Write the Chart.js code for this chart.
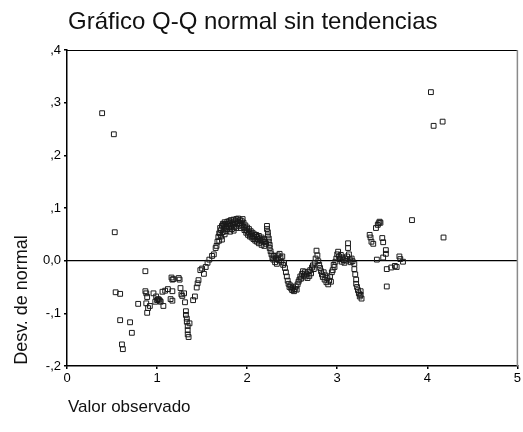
<!DOCTYPE html>
<html>
<head>
<meta charset="utf-8">
<script src="https://cdn.jsdelivr.net/npm/chart.js@4/dist/chart.umd.min.js"></script>
<style>
  html, body { margin: 0; padding: 0; background: #fff; }
  #wrap { width: 523px; height: 432px; }
</style>
</head>
<body>
<div id="wrap"><canvas id="qq" width="523" height="432"></canvas></div>
<script>
// Detrended normal Q-Q plot: [observed value, deviation from normal]
const colaInferior = [
  [0.39, 0.280], [0.52, 0.240], [0.53, 0.054], [0.54, -0.060], [0.59, -0.063],
  [0.59, -0.113], [0.61, -0.159], [0.62, -0.168], [0.70, -0.117], [0.72, -0.137],
  [0.79, -0.082], [0.87, -0.020], [0.87, -0.058], [0.88, -0.062], [0.89, -0.069],
  [0.89, -0.099], [0.88, -0.081], [0.92, -0.086], [0.90, -0.090], [0.96, -0.062],
  [0.99, -0.068], [1.00, -0.075], [0.98, -0.078], [1.01, -0.073], [1.03, -0.076],
  [1.04, -0.078], [1.02, -0.074], [1.07, -0.086], [1.06, -0.059], [1.09, -0.057],
  [1.12, -0.054], [1.17, -0.058], [1.15, -0.073], [1.17, -0.076], [1.16, -0.032],
  [1.17, -0.036], [1.18, -0.035], [1.24, -0.033], [1.25, -0.036], [1.26, -0.052],
  [1.27, -0.064], [1.28, -0.067], [1.30, -0.062], [1.31, -0.079], [1.32, -0.096],
  [1.32, -0.103], [1.33, -0.110], [1.33, -0.116], [1.34, -0.124], [1.34, -0.132],
  [1.34, -0.140], [1.35, -0.145], [1.36, -0.119], [1.40, -0.075], [1.42, -0.068],
  [1.44, -0.051], [1.45, -0.043], [1.46, -0.037], [1.48, -0.018], [1.50, -0.015],
  [1.52, -0.025], [1.54, -0.012], [1.56, -0.004], [1.58, 0.002], [1.61, 0.009],
  [1.63, 0.012], [1.65, 0.024], [1.66, 0.028], [1.67, 0.036], [1.68, 0.045],
  [1.69, 0.052]
];

const cuerpo = [
  [1.69, 0.038], [1.70, 0.052], [1.70, 0.062], [1.71, 0.046], [1.71, 0.058],
  [1.72, 0.066], [1.72, 0.040], [1.73, 0.070], [1.73, 0.054], [1.74, 0.061],
  [1.74, 0.068], [1.75, 0.073], [1.75, 0.050], [1.76, 0.063], [1.76, 0.070],
  [1.77, 0.066], [1.77, 0.056], [1.78, 0.074], [1.78, 0.060], [1.79, 0.069],
  [1.80, 0.075], [1.80, 0.063], [1.81, 0.071], [1.81, 0.055], [1.82, 0.066],
  [1.82, 0.077], [1.83, 0.060], [1.84, 0.073], [1.84, 0.068], [1.85, 0.078],
  [1.85, 0.057], [1.86, 0.064], [1.86, 0.071], [1.87, 0.076], [1.88, 0.062],
  [1.88, 0.079], [1.89, 0.069], [1.90, 0.074], [1.90, 0.080], [1.91, 0.066],
  [1.92, 0.077], [1.92, 0.071], [1.93, 0.062], [1.94, 0.075], [1.94, 0.068],
  [1.95, 0.079], [1.96, 0.064], [1.96, 0.072], [1.97, 0.058], [1.98, 0.067],
  [1.98, 0.061], [1.99, 0.053], [2.00, 0.063], [2.00, 0.057], [2.01, 0.049],
  [2.02, 0.060], [2.02, 0.054], [2.03, 0.046], [2.04, 0.056], [2.04, 0.050],
  [2.05, 0.044], [2.06, 0.053], [2.06, 0.047], [2.07, 0.041], [2.08, 0.050],
  [2.08, 0.044], [2.09, 0.038], [2.10, 0.049], [2.11, 0.045], [2.11, 0.036],
  [2.12, 0.041], [2.13, 0.047], [2.13, 0.033], [2.14, 0.042], [2.15, 0.038],
  [2.16, 0.044], [2.16, 0.030], [2.17, 0.039], [2.18, 0.035], [2.19, 0.041],
  [2.19, 0.028], [2.20, 0.036], [2.21, 0.032], [2.22, 0.066], [2.22, 0.060],
  [2.23, 0.054], [2.23, 0.048], [2.24, 0.042], [2.24, 0.036], [2.25, 0.030],
  [2.25, 0.024], [2.26, 0.018], [2.27, 0.012], [2.28, 0.006], [2.29, 0.002],
  [2.30, 0.009], [2.31, -0.003], [2.32, 0.004], [2.33, -0.006], [2.34, 0.010],
  [2.35, 0.001], [2.36, 0.013], [2.37, 0.006], [2.38, -0.002], [2.39, 0.008],
  [2.40, -0.008], [2.41, -0.004], [2.42, -0.014], [2.43, -0.022], [2.44, -0.030],
  [2.45, -0.038], [2.46, -0.044], [2.47, -0.050], [2.48, -0.047], [2.49, -0.053],
  [2.50, -0.056], [2.51, -0.051], [2.52, -0.058], [2.53, -0.054], [2.54, -0.049],
  [2.55, -0.055], [2.56, -0.045], [2.57, -0.040], [2.58, -0.036], [2.59, -0.030],
  [2.60, -0.034], [2.61, -0.025], [2.62, -0.020], [2.63, -0.028], [2.64, -0.022],
  [2.65, -0.030], [2.66, -0.026], [2.67, -0.033], [2.68, -0.021], [2.69, -0.029],
  [2.70, -0.018], [2.71, -0.024], [2.72, -0.013], [2.73, -0.009], [2.74, -0.016],
  [2.75, -0.004], [2.76, 0.004], [2.77, 0.019], [2.78, 0.010], [2.79, -0.001],
  [2.80, -0.008], [2.81, -0.014], [2.82, -0.020], [2.83, -0.026], [2.84, -0.031],
  [2.85, -0.022], [2.86, -0.036], [2.87, -0.028], [2.88, -0.041], [2.89, -0.033],
  [2.90, -0.045], [2.91, -0.038], [2.92, -0.030], [2.93, -0.040], [2.94, -0.022],
  [2.95, -0.018], [2.96, -0.008], [2.97, -0.012], [2.98, -0.002], [2.99, 0.004],
  [3.00, 0.012], [3.01, 0.017], [3.02, 0.008], [3.03, 0.003], [3.04, 0.011],
  [3.05, -0.002], [3.06, 0.006], [3.07, 0.001], [3.08, -0.004], [3.09, 0.004],
  [3.10, 0.000], [3.11, 0.008], [3.12, 0.033], [3.12, 0.024], [3.13, 0.012],
  [3.14, 0.002], [3.15, -0.003], [3.16, 0.004], [3.17, -0.001], [3.19, -0.006],
  [3.19, -0.016], [3.20, -0.026], [3.21, -0.036], [3.21, -0.044], [3.22, -0.050],
  [3.23, -0.056], [3.24, -0.062], [3.25, -0.068], [3.26, -0.058], [3.27, -0.072],
  [3.26, -0.065]
];

const colaSuperior = [
  [3.36, 0.049], [3.37, 0.044], [3.38, 0.036], [3.40, 0.032], [3.43, 0.062],
  [3.45, 0.068], [3.46, 0.071], [3.47, 0.074], [3.48, 0.072], [3.50, 0.043],
  [3.51, 0.035], [3.54, 0.020], [3.54, 0.013], [3.51, 0.006], [3.44, 0.002],
  [3.55, -0.016], [3.55, -0.049], [3.60, -0.013], [3.64, -0.010], [3.66, -0.012],
  [3.69, 0.008], [3.70, 0.003], [3.73, -0.002], [3.83, 0.077], [4.04, 0.320],
  [4.07, 0.256], [4.17, 0.264], [4.18, 0.044]
];

const xTicks = [0, 1, 2, 3, 4, 5];
const yTicks = [-0.2, -0.1, 0, 0.1, 0.2, 0.3, 0.4];
const yTickLabels = ['-,2', '-,1', '0,0', ',1', ',2', ',3', ',4'];

const titulo = 'Gráfico Q-Q normal sin tendencias';
const tituloX = 'Valor observado';
const tituloY = 'Desv. de normal';

const FONT = '"Liberation Sans", Arial, sans-serif';

const puntos = colaInferior.concat(cuerpo, colaSuperior).map(p => ({ x: p[0], y: p[1] }));

// Frame, reference line at zero and the free-standing titles
const marco = {
  id: 'marco',
  beforeDatasetsDraw(chart) {
    const { ctx, chartArea: a, scales } = chart;
    const y0 = scales.y.getPixelForValue(0);
    ctx.save();
    ctx.strokeStyle = '#000';
    ctx.lineWidth = 1.2;
    ctx.beginPath();
    ctx.moveTo(a.left, y0);
    ctx.lineTo(a.right, y0);
    ctx.stroke();
    ctx.lineWidth = 1;
    ctx.beginPath();
    ctx.moveTo(a.left, a.top + 0.5);
    ctx.lineTo(a.right, a.top + 0.5);
    ctx.stroke();
    ctx.strokeStyle = '#8a8a8a';
    ctx.lineWidth = 1.5;
    ctx.beginPath();
    ctx.moveTo(a.right, a.top);
    ctx.lineTo(a.right, a.bottom);
    ctx.stroke();
    ctx.restore();
  },
  afterDraw(chart) {
    const { ctx, chartArea: a } = chart;
    ctx.save();
    ctx.fillStyle = '#111';
    ctx.textBaseline = 'alphabetic';
    ctx.textAlign = 'left';
    ctx.font = '24px ' + FONT;
    ctx.fillText(titulo, a.left + 1, 29);
    ctx.font = '17px ' + FONT;
    ctx.fillText(tituloX, a.left + 1, 412);
    ctx.translate(27, 300);
    ctx.rotate(-Math.PI / 2);
    ctx.textAlign = 'center';
    ctx.font = '18px ' + FONT;
    ctx.fillText(tituloY, 0, 0);
    ctx.restore();
  }
};

new Chart(document.getElementById('qq'), {
  type: 'scatter',
  data: {
    datasets: [{
      data: puntos,
      pointStyle: 'rect',
      pointRadius: 3.4,
      pointHoverRadius: 3.4,
      borderWidth: 1,
      borderColor: '#1a1a1a',
      backgroundColor: 'rgba(255,255,255,0)'
    }]
  },
  options: {
    responsive: false,
    animation: false,
    events: [],
    layout: { padding: { left: 0, right: 5, top: 50, bottom: 36 } },
    plugins: { legend: { display: false }, tooltip: { enabled: false }, title: { display: false } },
    scales: {
      x: {
        type: 'linear',
        min: 0, max: 5,
        afterBuildTicks(scale) { scale.ticks = xTicks.map(v => ({ value: v })); },
        afterFit(scale) { scale.height = 30; },
        grid: { drawOnChartArea: false, drawTicks: true, tickLength: 3, color: '#000', lineWidth: 1.5 },
        border: { color: '#000', width: 1.5 },
        ticks: { color: '#000', font: { family: FONT, size: 13 }, padding: 2, maxRotation: 0,
                 callback: v => String(v) }
      },
      y: {
        type: 'linear',
        min: -0.2, max: 0.4,
        afterBuildTicks(scale) { scale.ticks = yTicks.map(v => ({ value: v })); },
        afterFit(scale) { scale.width = 67; },
        grid: { drawOnChartArea: false, drawTicks: true, tickLength: 3, color: '#000', lineWidth: 1.5 },
        border: { color: '#000', width: 1.5 },
        ticks: { color: '#000', font: { family: FONT, size: 13 }, padding: 3,
                 callback: (v) => {
                   const i = yTicks.findIndex(t => Math.abs(t - v) < 1e-9);
                   return i >= 0 ? yTickLabels[i] : '';
                 } }
      }
    }
  },
  plugins: [marco]
});
</script>
</body>
</html>
